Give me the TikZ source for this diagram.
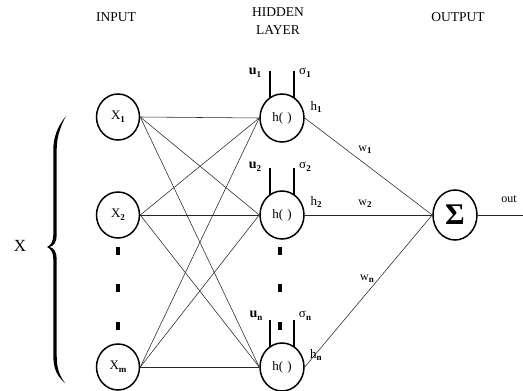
\documentclass[tikz,border=0pt]{standalone}
\usepackage{fontspec}
\setmainfont{Liberation Serif}
\usetikzlibrary{shapes.geometric,calc}
\newcommand\sbx[1]{\raisebox{-0.45ex}{\fontsize{9}{9}\selectfont\bfseries #1}}
\tikzset{
  inp/.style={ellipse, draw, line width=1.5pt, minimum width=43pt, minimum height=46pt, inner sep=0pt, font=\fontsize{13}{13}\selectfont},
  hid/.style={ellipse, draw, line width=1.5pt, minimum width=44pt, minimum height=48pt, inner sep=0pt, font=\fontsize{13}{13}\selectfont},
  conn/.style={line width=0.55pt, draw=black!85},
  stem/.style={line width=1.3pt},
  dotbar/.style={fill=black, minimum width=3.2pt, minimum height=7.5pt, inner sep=0pt, draw=none, rectangle},
  title/.style={font=\fontsize{13.5}{13.5}\selectfont, inner sep=0pt},
  lbl/.style={font=\fontsize{13}{13}\selectfont, inner sep=0pt},
  wlbl/.style={font=\fontsize{12}{12}\selectfont, inner sep=0pt},
}
\begin{document}
\begin{tikzpicture}[x=1pt,y=-1pt]
\useasboundingbox[fill=white] (0,0) rectangle (523,391);
% titles
\node[title] (tin) at (116,17) {INPUT};
\node[title] (thid1) at (278,12) {HIDDEN};
\node[title] (thid2) at (278,30) {LAYER};
\node[title] (tout) at (458,17) {OUTPUT};
% input nodes
\node[inp] (x1) at (118,117) {X\sbx{1}};
\node[inp] (x2) at (118,215) {X\sbx{2}};
\node[inp] (xm) at (118,367) {X\sbx{m}};
% hidden nodes
\node[hid] (h1) at (282,118) {h(\,\,)};
\node[hid] (h2) at (282,215) {h(\,\,)};
\node[hid] (hn) at (282,367) {h(\,\,)};
% output node
\node[hid, minimum width=44pt, minimum height=50pt] (sig) at (455,215) {\fontsize{30}{30}\selectfont\bfseries Σ};
\coordinate (outend) at (523,215);
% dots
\foreach \yy/\nm in {251/a,288/b,326/c}{
  \node[dotbar] (di\nm) at (118,\yy) {};
  \node[dotbar] (dh\nm) at (280,\yy) {};
}
% input -> hidden connections
\foreach \a in {x1,x2,xm}{
  \foreach \b in {h1,h2,hn}{
    \draw[conn] (\a.east) -- (\b.west);
  }
}
% hidden -> output
\draw[conn] (h1.east) -- (sig.west);
\draw[conn] (h2.east) -- (sig.west);
\draw[conn] (hn.east) -- (sig.west);
\draw[conn] (sig.east) -- (outend);
% stems for u and sigma
\foreach \h/\up in {h1/47,h2/47,hn/47}{
  \draw[stem] ($(\h)+(-12,-\up)$) -- ($(\h)+(-12,-20)$);
  \draw[stem] ($(\h)+(12,-\up)$) -- ($(\h)+(12,-20)$);
}
% u / sigma labels
\node[lbl] (u1) at (255,73) {\fontsize{14}{14}\selectfont\textbf{u}\sbx{1}};
\node[lbl] (s1) at (305,73) {σ\sbx{1}};
\node[lbl] (u2) at (255,167) {\fontsize{14}{14}\selectfont\textbf{u}\sbx{2}};
\node[lbl] (s2) at (305,167) {σ\sbx{2}};
\node[lbl] (un) at (256,316) {\fontsize{14}{14}\selectfont\textbf{u}\sbx{n}};
\node[lbl] (sn) at (305,316) {σ\sbx{n}};
% h labels
\node[lbl] (lh1) at (316,107) {h\sbx{1}};
\node[lbl] (lh2) at (316,202) {h\sbx{2}};
\node[lbl] (lhn) at (316,355) {h\sbx{n}};
% w labels
\node[wlbl] (w1) at (365,150) {w\sbx{1}};
\node[wlbl] (w2) at (365,204) {w\sbx{2}};
\node[wlbl] (wn) at (367,279) {w\sbx{n}};
\node[wlbl] (lout) at (509,199) {out};
% brace
\fill (66,116) .. controls (57,127) and (53.3,138) .. (53.3,150) -- (53.3,235)
  .. controls (53.3,241) and (51,245.5) .. (47,247)
  .. controls (51,248.5) and (53.3,253) .. (53.3,259) -- (53.3,355)
  .. controls (53.3,369) and (57,376) .. (65,383)
  .. controls (59,375) and (56.7,368) .. (56.7,355) -- (56.7,259)
  .. controls (56.7,252) and (54,248) .. (49.5,247)
  .. controls (54,246) and (56.7,242) .. (56.7,235) -- (56.7,150)
  .. controls (56.7,139) and (59,129) .. (66,116) -- cycle;
\node[font=\fontsize{17}{17}\selectfont, inner sep=0pt] (bigx) at (20,246) {X};
\end{tikzpicture}
\end{document}
